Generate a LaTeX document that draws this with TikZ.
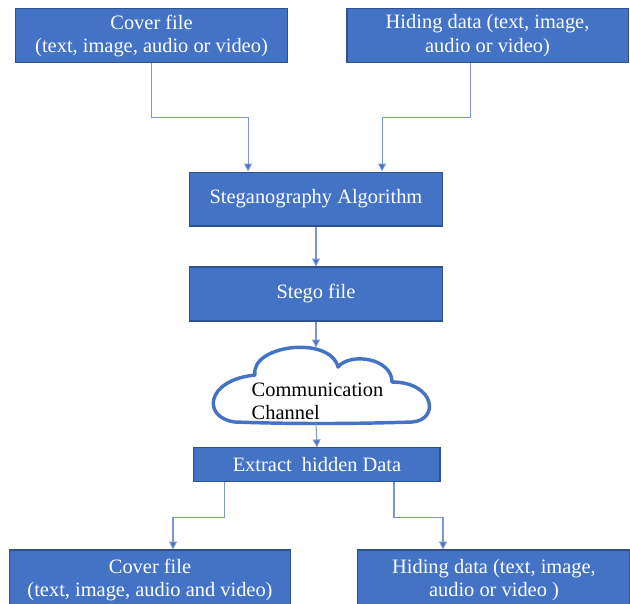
\documentclass[tikz,border=0pt]{standalone}
\usepackage{fontspec}
\setmainfont{Liberation Serif}
\usetikzlibrary{arrows.meta, positioning, calc}
\definecolor{stblue}{HTML}{4472C4}
\definecolor{stedge}{HTML}{2F528F}
\definecolor{stline}{HTML}{7A97D4}

\begin{document}
\begin{tikzpicture}[
  every node/.style={font=\fontsize{15.4}{17.8}\selectfont},
  box/.style={rectangle, fill=stblue, draw=stedge, line width=0.8pt, text=white, align=center, inner sep=2pt},
  link/.style={draw=stline, line width=0.8pt, -{Triangle[length=6pt, width=6pt, fill=stblue]}},
]
\clip (0,0) rectangle (16.695,-15.98);

\node[box, minimum width=7.23cm, minimum height=1.43cm] (ctop) at (4.015, -0.95) {Cover file\\(text, image, audio or video)};
\node[box, minimum width=7.45cm, minimum height=1.43cm] (htop) at (12.92, -0.95) {Hiding data (text, image,\\audio or video)};

\node[box, minimum width=6.68cm, minimum height=1.43cm] (algo) at (8.374, -5.274) {Steganography Algorithm};
\node[box, minimum width=6.68cm, minimum height=1.43cm] (stego) at (8.374, -7.791) {Stego file};

% cloud
\draw[stblue, line width=2.6pt, fill=white, line join=round]
  (6.758,-9.938) .. controls (6.625,-9.143) and (8.745,-8.878) .. (8.957,-9.726)
  .. controls (9.275,-9.328) and (10.388,-9.487) .. (10.388,-10.123)
  .. controls (11.528,-10.123) and (11.66,-11.13) .. (10.918,-11.183)
  .. controls (9.275,-11.236) and (7.685,-11.236) .. (6.228,-11.183)
  .. controls (5.353,-11.077) and (5.433,-10.07) .. (6.758,-9.938) -- cycle;
\coordinate (cloudtop) at (8.374, -9.21);
\coordinate (cloudbot) at (8.374, -11.22);
\node[align=left] (chan) at (8.414, -10.64) {Communication\\Channel};

\node[box, minimum width=6.52cm, minimum height=0.9cm] (extract) at (8.40, -12.32) {Extract~ hidden Data};

\node[box, minimum width=7.47cm, minimum height=1.59cm] (cbot) at (3.975, -15.37) {Cover file\\(text, image, audio and video)};
\node[box, minimum width=7.21cm, minimum height=1.59cm] (hbot) at (13.09, -15.37) {Hiding data (text, image,\\audio or video )};

\draw[link] (ctop.south) -- ++(0,-1.44) -| ([xshift=-1.80cm]algo.north);
\draw[link] ([xshift=-0.46cm]htop.south) -- ++(0,-1.44) -| ([xshift=1.75cm]algo.north);
\draw[link] (algo) -- (stego);
\draw[link] (stego.south) -- (cloudtop);
\draw[link] (cloudbot) -- (extract.north);
\draw[link] ([xshift=-2.44cm]extract.south) -- ++(0,-0.93) -| ([xshift=0.61cm]cbot.north);
\draw[link] ([xshift=2.04cm]extract.south) -- ++(0,-0.93) -| ([xshift=-1.35cm]hbot.north);

\end{tikzpicture}
\end{document}
